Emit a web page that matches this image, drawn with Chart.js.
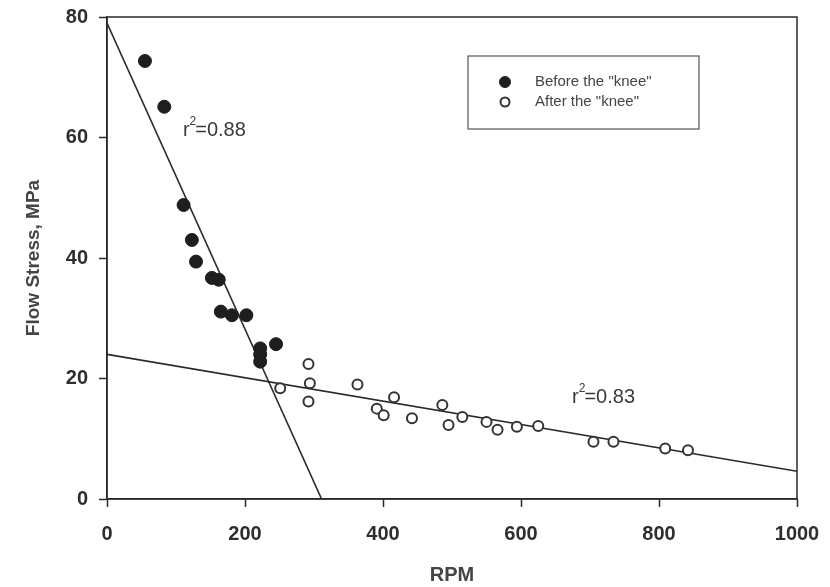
<!DOCTYPE html>
<html>
<head>
<meta charset="utf-8">
<script src="https://cdn.jsdelivr.net/npm/chart.js@4/dist/chart.umd.min.js"></script>
<style>
  html, body { margin: 0; padding: 0; background: #ffffff; }
  #wrap { width: 830px; height: 587px; position: relative; }
</style>
</head>
<body>
<div id="wrap"><canvas id="c" width="830" height="587"></canvas></div>
<script>
// ---- data ----
const beforeRPM    = [55, 83, 111, 123, 129, 152, 162, 165, 181, 202, 222, 222, 222, 245];
const beforeStress = [72.7, 65.1, 48.8, 43.0, 39.4, 36.7, 36.4, 31.1, 30.5, 30.5, 25.0, 24.0, 22.8, 25.7];

const afterRPM    = [251, 292, 294, 292, 363, 391, 401, 416, 442, 486, 495, 515, 550, 566, 594, 625, 705, 734, 809, 842];
const afterStress = [18.4, 22.4, 19.2, 16.2, 19.0, 15.0, 13.9, 16.9, 13.4, 15.6, 12.3, 13.6, 12.8, 11.5, 12.0, 12.1, 9.5, 9.5, 8.4, 8.1];

// regression lines (end points)
const fitBeforeX = [0, 311];
const fitBeforeY = [79.0, 0];
const fitAfterX  = [0, 1000];
const fitAfterY  = [24.0, 4.6];

const r2Labels = [
  { x: 110, y: 61.2, base: "r", sup: "2", rest: "=0.88" },
  { x: 674, y: 16.8, base: "r", sup: "2", rest: "=0.83" }
];

const xTicks = [0, 200, 400, 600, 800, 1000];
const yTicks = [0, 20, 40, 60, 80];

const seriesNames = ['Before the "knee"', 'After the "knee"'];
// --------------------------------------

const toPts = (xs, ys) => xs.map((x, i) => ({ x: x, y: ys[i] }));
const FONT = '"Liberation Sans", Arial, Helvetica, sans-serif';
const INK = '#2a2a2a';

const framePlugin = {
  id: 'frame',
  afterDraw(chart) {
    const { ctx, chartArea: a } = chart;
    ctx.save();
    ctx.strokeStyle = INK;
    ctx.lineWidth = 1.5;
    ctx.strokeRect(a.left, a.top, a.right - a.left, a.bottom - a.top);
    ctx.restore();
  }
};

const r2Plugin = {
  id: 'r2',
  afterDatasetsDraw(chart) {
    const { ctx, scales } = chart;
    ctx.save();
    ctx.fillStyle = '#3a3a3a';
    ctx.textBaseline = 'middle';
    ctx.textAlign = 'left';
    r2Labels.forEach(l => {
      let px = scales.x.getPixelForValue(l.x);
      const py = scales.y.getPixelForValue(l.y);
      ctx.font = '20px ' + FONT;
      ctx.fillText(l.base, px, py);
      px += ctx.measureText(l.base).width;
      ctx.font = '12px ' + FONT;
      ctx.fillText(l.sup, px, py - 9);
      px += ctx.measureText(l.sup).width - 1;
      ctx.font = '20px ' + FONT;
      ctx.fillText(l.rest, px, py);
    });
    ctx.restore();
  }
};

const legendPlugin = {
  id: 'boxLegend',
  afterDraw(chart) {
    const { ctx } = chart;
    const bx = 468, by = 56, bw = 231, bh = 73;
    ctx.save();
    ctx.strokeStyle = '#555';
    ctx.lineWidth = 1.2;
    ctx.strokeRect(bx, by, bw, bh);
    ctx.font = '15px ' + FONT;
    ctx.textBaseline = 'middle';
    const rows = [0, 1];
    rows.forEach((di, k) => {
      const ds = chart.data.datasets[di];
      const cy = by + 26 + k * 20;
      const cx = bx + 37;
      ctx.beginPath();
      ctx.arc(cx, cy, di === 0 ? 5.5 : 4.5, 0, Math.PI * 2);
      ctx.fillStyle = ds.backgroundColor;
      ctx.fill();
      ctx.lineWidth = ds.borderWidth;
      ctx.strokeStyle = ds.borderColor;
      ctx.stroke();
      ctx.fillStyle = '#444';
      ctx.fillText(ds.label, bx + 67, cy);
    });
    ctx.restore();
  }
};

new Chart(document.getElementById('c'), {
  type: 'scatter',
  data: {
    datasets: [
      {
        label: seriesNames[0],
        data: toPts(beforeRPM, beforeStress),
        pointRadius: 6.5,
        backgroundColor: '#1e1e1e',
        borderColor: '#1e1e1e',
        borderWidth: 1
      },
      {
        label: seriesNames[1],
        data: toPts(afterRPM, afterStress),
        pointRadius: 5,
        backgroundColor: '#ffffff',
        borderColor: '#333333',
        borderWidth: 2
      },
      {
        label: 'fit1',
        data: toPts(fitBeforeX, fitBeforeY),
        showLine: true,
        pointRadius: 0,
        borderColor: INK,
        borderWidth: 1.6
      },
      {
        label: 'fit2',
        data: toPts(fitAfterX, fitAfterY),
        showLine: true,
        pointRadius: 0,
        borderColor: INK,
        borderWidth: 1.6
      }
    ]
  },
  options: {
    responsive: false,
    animation: false,
    layout: { padding: { left: 0, right: 33, top: 17, bottom: 0 } },
    plugins: {
      legend: { display: false },
      tooltip: { enabled: false }
    },
    scales: {
      x: {
        type: 'linear',
        min: 0, max: 1000,
        afterBuildTicks: s => { s.ticks = xTicks.map(v => ({ value: v })); },
        ticks: { color: '#2e2e2e', font: { family: FONT, size: 20, weight: 'bold' }, padding: 15, maxRotation: 0, callback: v => String(v) },
        grid: { drawOnChartArea: false, drawTicks: true, tickLength: 8, tickColor: INK, tickWidth: 1.5 },
        border: { color: INK, width: 1.5 },
        title: { display: true, text: 'RPM', color: '#444', font: { family: FONT, size: 20, weight: 'bold' }, padding: { top: 13, bottom: 0 } },
        afterFit: s => { s.height = 88; s.paddingLeft = 0; s.paddingRight = 0; }
      },
      y: {
        type: 'linear',
        min: 0, max: 80,
        afterBuildTicks: s => { s.ticks = yTicks.map(v => ({ value: v })); },
        ticks: { color: '#2e2e2e', font: { family: FONT, size: 20, weight: 'bold' }, padding: 11, callback: v => String(v) },
        grid: { drawOnChartArea: false, drawTicks: true, tickLength: 8, tickColor: INK, tickWidth: 1.5 },
        border: { color: INK, width: 1.5 },
        title: { display: true, text: 'Flow Stress, MPa', color: '#444', font: { family: FONT, size: 19, weight: 'bold' }, padding: { top: 22, bottom: 0 } },
        afterFit: s => { s.width = 107; s.paddingTop = 0; s.paddingBottom = 0; }
      }
    }
  },
  plugins: [framePlugin, r2Plugin, legendPlugin]
});
</script>
</body>
</html>
